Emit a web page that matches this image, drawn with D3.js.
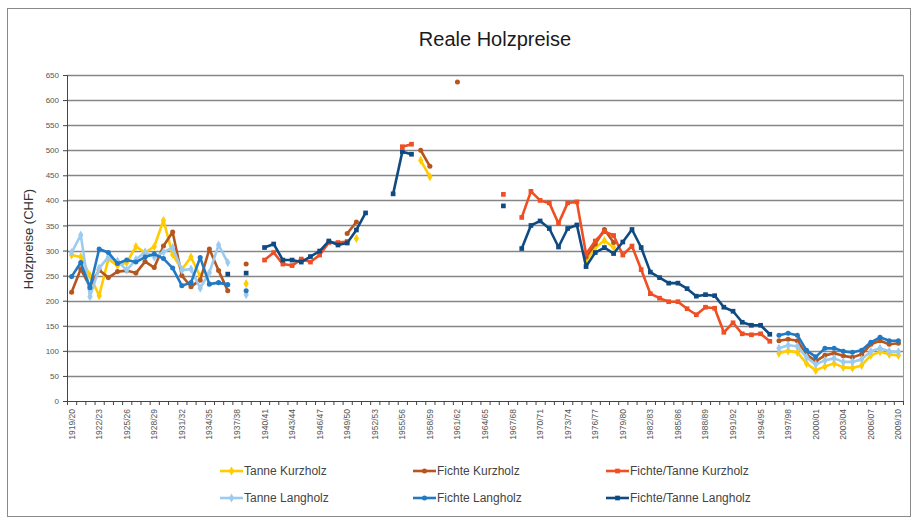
<!DOCTYPE html>
<html>
<head>
<meta charset="utf-8">
<script src="https://cdn.jsdelivr.net/npm/d3@7"></script>
<style>
body { margin: 0; background: #fff; }
text { font-family: "Liberation Sans", Arial, sans-serif; }
</style>
</head>
<body>
<svg width="917" height="521"></svg>
<script>
const _ = null

const seasons = [
  '1919/20','1920/21','1921/22','1922/23','1923/24','1924/25','1925/26','1926/27','1927/28','1928/29',
  '1929/30','1930/31','1931/32','1932/33','1933/34','1934/35','1935/36','1936/37','1937/38','1938/39',
  '1939/40','1940/41','1941/42','1942/43','1943/44','1944/45','1945/46','1946/47','1947/48','1948/49',
  '1949/50','1950/51','1951/52','1952/53','1953/54','1954/55','1955/56','1956/57','1957/58','1958/59',
  '1959/60','1960/61','1961/62','1962/63','1963/64','1964/65','1965/66','1966/67','1967/68','1968/69',
  '1969/70','1970/71','1971/72','1972/73','1973/74','1974/75','1975/76','1976/77','1977/78','1978/79',
  '1979/80','1980/81','1981/82','1982/83','1983/84','1984/85','1985/86','1986/87','1987/88','1988/89',
  '1989/90','1990/91','1991/92','1992/93','1993/94','1994/95','1995/96','1996/97','1997/98','1998/99',
  '1999/00','2000/01','2001/02','2002/03','2003/04','2004/05','2005/06','2006/07','2007/08','2008/09',
  '2009/10'
]
const yTicks = [0, 50, 100, 150, 200, 250, 300, 350, 400, 450, 500, 550, 600, 650]

const tanneKurz = [
  291, 287, 250, 210, 283, 270, 276, 308, 296, 308,
  360, 292, 262, 287, 248, _, _, _, _, 234,
  _, _, _, _, _, _, _, _, _, _,
  _, 324, _, _, _, _, _, _, 480, 447,
  _, _, _, _, _, _, _, _, _, _,
  _, _, _, _, _, _, 279, 306, 320, 306,
  _, _, _, _, _, _, _, _, _, _,
  _, _, _, _, _, _, _, 95, 100, 97,
  75, 61, 69, 75, 67, 66, 71, 91, 98, 93,
  91
]
const fichteKurz = [
  217, 263, 228, 261, 246, 258, 260, 255, 278, 266,
  309, 337, 250, 228, 241, 303, 260, 220, _, 273,
  _, _, _, _, _, _, _, _, _, _,
  334, 357, _, _, _, _, _, _, 500, 468,
  _, _, 636, _, _, _, _, _, _, _,
  _, _, _, _, _, _, 287, 313, 342, 316,
  _, _, _, _, _, _, _, _, _, _,
  _, _, _, _, _, _, _, 120, 123, 120,
  93, 79, 91, 95, 90, 87, 93, 113, 120, 113,
  115
]
const mixKurz = [
  _, _, _, _, _, _, _, _, _, _,
  _, _, _, _, _, _, _, _, _, _,
  _, 281, 296, 273, 270, 283, 277, 291, 316, 316,
  318, _, _, _, _, _, 507, 512, _, _,
  _, _, _, _, _, _, _, 412, _, 366,
  418, 400, 395, 354, 395, 397, 293, 319, 338, 330,
  291, 309, 262, 214, 205, 198, 198, 184, 172, 187,
  185, 137, 156, 134, 132, 134, 119, _, _, _,
  _, _, _, _, _, _, _, _, _, _,
  _
]
const tanneLang = [
  296, 331, 208, 265, 287, 279, 261, 282, 297, 287,
  297, 306, 261, 263, 225, 256, 311, 276, _, 212,
  _, _, _, _, _, _, _, _, _, _,
  _, _, _, _, _, _, _, _, _, _,
  _, _, _, _, _, _, _, _, _, _,
  _, _, _, _, _, _, _, _, _, _,
  _, _, _, _, _, _, _, _, _, _,
  _, _, _, _, _, _, _, 105, 111, 109,
  87, 73, 81, 85, 78, 78, 83, 99, 105, 99,
  98
]
const fichteLang = [
  248, 276, 226, 303, 296, 274, 281, 277, 287, 293,
  284, 265, 230, 236, 286, 233, 236, 232, _, 220,
  _, _, _, _, _, _, _, _, _, _,
  _, _, _, _, _, _, _, _, _, _,
  _, _, _, _, _, _, _, _, _, _,
  _, _, _, _, _, _, _, _, _, _,
  _, _, _, _, _, _, _, _, _, _,
  _, _, _, _, _, _, _, 131, 135, 131,
  101, 88, 105, 105, 99, 97, 101, 117, 127, 120,
  120
]
const mixLang = [
  _, _, _, _, _, _, _, _, _, _,
  _, _, _, _, _, _, _, 253, _, 255,
  _, 306, 313, 281, 281, 277, 288, 299, 319, 311,
  315, 341, 375, _, _, 413, 497, 492, _, _,
  _, _, _, _, _, _, _, 389, _, 304,
  350, 359, 344, 307, 344, 351, 268, 296, 306, 294,
  317, 342, 306, 257, 246, 235, 235, 224, 209, 212,
  210, 187, 179, 157, 151, 151, 133, _, _, _,
  _, _, _, _, _, _, _, _, _, _,
  _
]

const series = [
  {name: 'Tanne Kurzholz', values: tanneKurz, color: '#ffcc00', sym: d3.symbolDiamond, size: 24},
  {name: 'Fichte Kurzholz', values: fichteKurz, color: '#b5561e', sym: d3.symbolCircle, size: 20},
  {name: 'Fichte/Tanne Kurzholz', values: mixKurz, color: '#f04e23', sym: d3.symbolSquare, size: 22},
  {name: 'Tanne Langholz', values: tanneLang, color: '#9dcbf0', sym: d3.symbolDiamond, size: 24},
  {name: 'Fichte Langholz', values: fichteLang, color: '#2279c3', sym: d3.symbolCircle, size: 20},
  {name: 'Fichte/Tanne Langholz', values: mixLang, color: '#0f4b82', sym: d3.symbolSquare, size: 22}
]

const svg = d3.select('svg')
const plotLeft = 67, plotRight = 903, plotTop = 75, plotBottom = 401

const x = d3.scaleBand().domain(seasons).range([plotLeft, plotRight])
const xEdge = d3.scaleLinear().domain([0, seasons.length]).range([plotLeft, plotRight])
const y = d3.scaleLinear().domain([0, 650]).range([plotBottom, plotTop])
const cx = s => x(s) + x.bandwidth() / 2

svg.append('rect')
  .attr('x', 7.5).attr('y', 8.5).attr('width', 903).attr('height', 508)
  .attr('fill', 'none').attr('stroke', '#8a8a8a')

svg.append('text')
  .attr('x', 495).attr('y', 46)
  .attr('text-anchor', 'middle')
  .attr('font-size', 20).attr('fill', '#1a1a1a')
  .text('Reale Holzpreise')

svg.append('text')
  .attr('transform', 'translate(33,239) rotate(-90)')
  .attr('text-anchor', 'middle')
  .attr('font-size', 13).attr('fill', '#333')
  .text('Holzpreise (CHF)')

// grid
svg.append('g').selectAll('line')
  .data(yTicks.filter(t => t > 0)).enter()
  .append('line')
  .attr('x1', plotLeft).attr('x2', plotRight)
  .attr('y1', d => Math.round(y(d)) + 0.5).attr('y2', d => Math.round(y(d)) + 0.5)
  .attr('stroke', '#868686').attr('stroke-width', 1.3)
svg.append('line')
  .attr('x1', plotRight + 0.5).attr('x2', plotRight + 0.5).attr('y1', plotTop).attr('y2', plotBottom)
  .attr('stroke', '#9a9a9a')

// y axis
const yAxis = svg.append('g')
  .attr('transform', `translate(${plotLeft},0)`)
  .call(d3.axisLeft(y).tickValues(yTicks).tickSize(4).tickPadding(4))
yAxis.selectAll('path, line').attr('stroke', '#444')
yAxis.selectAll('text').attr('font-size', 8).attr('fill', '#555').attr('font-family', '"Liberation Sans", Arial, sans-serif')

// x axis: ticks at category edges, labels every third season
const xTicks = svg.append('g')
  .attr('transform', `translate(0,${plotBottom})`)
  .call(d3.axisBottom(xEdge).tickValues(d3.range(0, seasons.length + 1)).tickSize(4).tickFormat(''))
xTicks.selectAll('path, line').attr('stroke', '#444')

const xLabels = svg.append('g')
  .attr('transform', `translate(0,${plotBottom})`)
  .call(d3.axisBottom(x).tickValues(seasons.filter((d, i) => i % 3 === 0)).tickSize(0))
xLabels.select('.domain').remove()
xLabels.selectAll('text')
  .attr('font-size', 8.5).attr('fill', '#555').attr('font-family', '"Liberation Sans", Arial, sans-serif')
  .attr('text-anchor', 'end')
  .attr('transform', 'rotate(-90)')
  .attr('x', -8).attr('y', 0).attr('dy', '0.35em')

// series
const lineGen = d3.line()
  .defined(d => d.v != null)
  .x(d => cx(d.s))
  .y(d => y(d.v))

series.forEach(sr => {
  const pts = seasons.map((s, i) => ({s: s, v: sr.values[i]}))
  const g = svg.append('g')
  g.append('path')
    .attr('d', lineGen(pts))
    .attr('fill', 'none')
    .attr('stroke', sr.color)
    .attr('stroke-width', 2.6)
    .attr('stroke-linejoin', 'round')
  g.selectAll('path.mk')
    .data(pts.filter(d => d.v != null)).enter()
    .append('path')
    .attr('class', 'mk')
    .attr('d', d3.symbol().type(sr.sym).size(sr.size))
    .attr('transform', d => `translate(${cx(d.s)},${y(d.v)})`)
    .attr('fill', sr.color)
})

// legend
const cols = [220, 413, 606]
const rows = [471, 498]
const lg = svg.append('g').selectAll('g')
  .data(series).enter()
  .append('g')
  .attr('transform', (d, i) => `translate(${cols[i % 3]},${rows[Math.floor(i / 3)]})`)
lg.append('line')
  .attr('x1', 0).attr('x2', 23)
  .attr('stroke', d => d.color).attr('stroke-width', 2.6)
lg.append('path')
  .attr('d', d => d3.symbol().type(d.sym).size(d.size)())
  .attr('transform', 'translate(11.5,0)')
  .attr('fill', d => d.color)
lg.append('text')
  .attr('x', 24).attr('dy', '0.35em')
  .attr('font-size', 12).attr('fill', '#444')
  .text(d => d.name)
</script>
</body>
</html>
